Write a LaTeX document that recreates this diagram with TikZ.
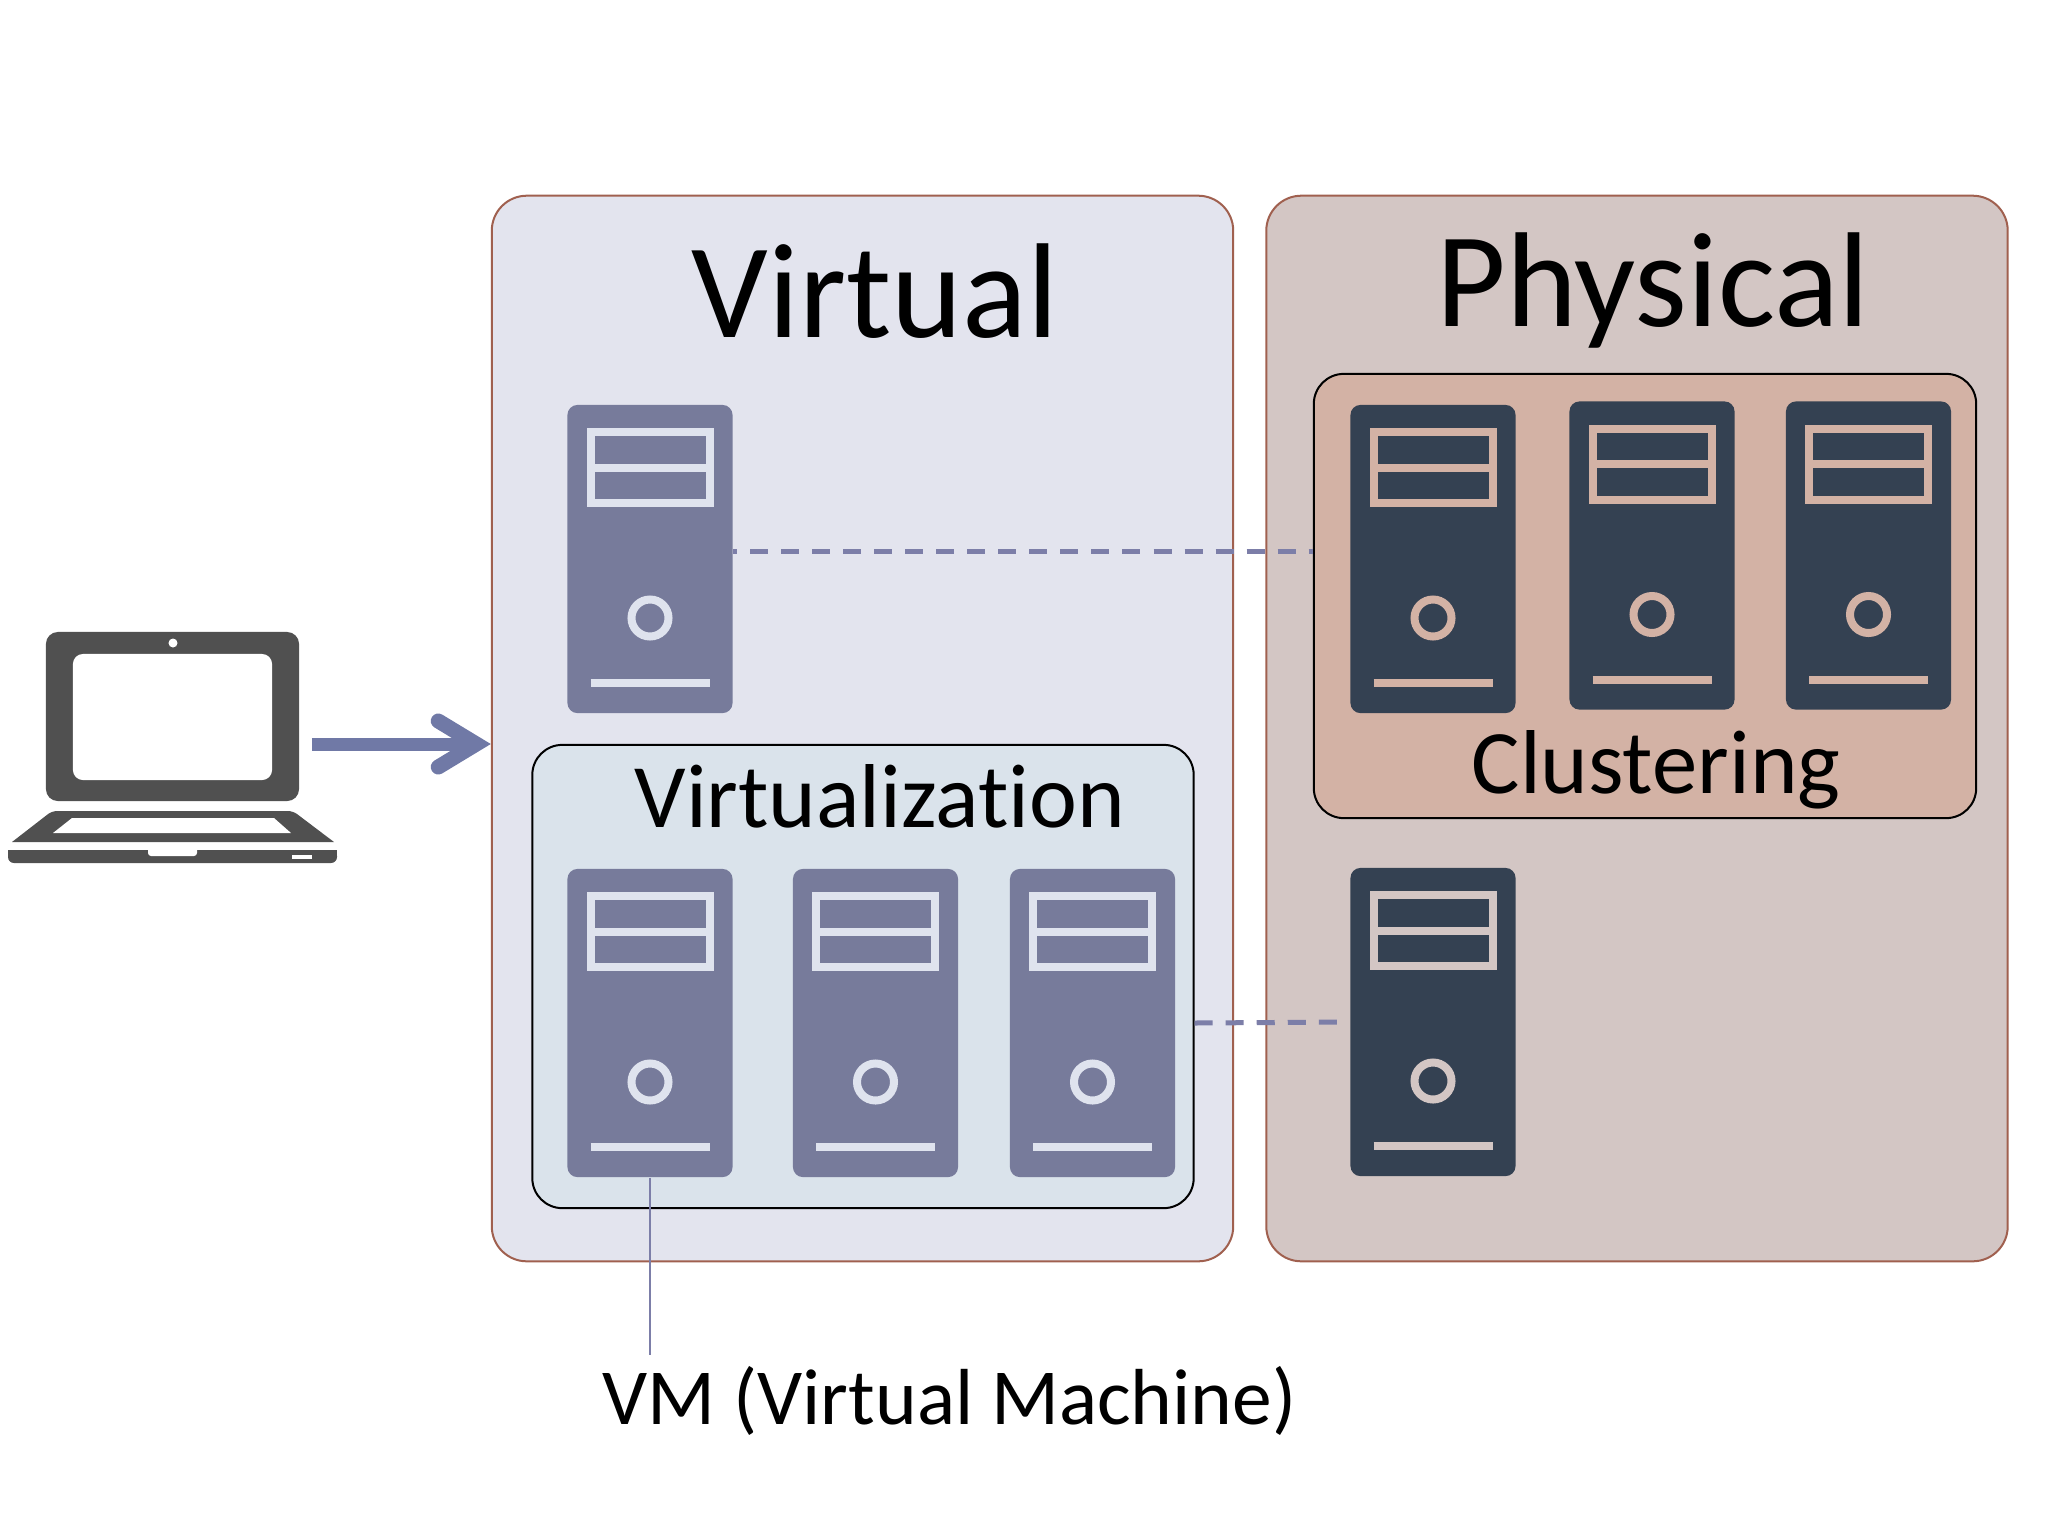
\documentclass[tikz,border=0pt]{standalone}
\usepackage{fontspec}
\setmainfont{Carlito}[Ligatures=NoCommon]
\usetikzlibrary{arrows.meta, positioning}

\definecolor{panelvirt}{HTML}{E3E4EE}
\definecolor{panelphys}{HTML}{D3C6C4}
\definecolor{panelline}{HTML}{A0604F}
\definecolor{virtfill}{HTML}{DAE3EB}
\definecolor{clusterfill}{HTML}{D3B2A5}
\definecolor{vmbody}{HTML}{777B9B}
\definecolor{vmtrim}{HTML}{DFE3EE}
\definecolor{hostbody}{HTML}{344152}
\definecolor{linkcolor}{HTML}{7C7EA8}
\definecolor{arrowcolor}{HTML}{7079A6}
\definecolor{laptopgray}{HTML}{505050}

\tikzset{
  panel/.style={draw=panelline, line width=0.02cm, rounded corners=0.35cm, minimum width=#1, minimum height=10.65cm, inner sep=0pt},
  group/.style={draw=black, line width=0.02cm, rounded corners=0.3cm, inner sep=0pt},
  serverbody/.style={rounded corners=0.1cm, minimum width=1.65cm, minimum height=3.08cm, inner sep=0pt},
  linkline/.style={draw=linkcolor, line width=0.05cm, dash pattern=on 0.18cm off 0.13cm},
  caption/.style={anchor=base, inner sep=0pt}
}

\newcommand{\server}[5]{
  \node [serverbody, fill=#4] (#1) at (#2,#3) {};
  \begin{scope}[shift={(#2,#3)}, draw=#5, line width=0.08cm]
    \draw (-59.5,-127) rectangle (59.5,-56);
    \draw (-59.5,-91.5) -- (59.5,-91.5);
    \draw (0,59) circle (0.185cm);
    \draw (-59.5,124) -- (59.5,124);
  \end{scope}
}

\begin{document}
\begin{tikzpicture}[x=0.01cm, y=-0.01cm]
  \useasboundingbox (0,0) rectangle (2048,1536);

  % panels
  \node [panel=7.41cm, fill=panelvirt] (virtual) at (862.5,728.5) {};
  \node [panel=7.41cm, fill=panelphys] (physical) at (1637,728.5) {};
  \node [group, fill=virtfill, minimum width=6.61cm, minimum height=4.63cm] (virtualization) at (863,976.5) {};
  \node [group, fill=clusterfill, minimum width=6.62cm, minimum height=4.44cm] (cluster) at (1645,596) {};

  % servers
  \server{vmtop}{650}{559}{vmbody}{vmtrim}
  \server{vma}{650}{1023}{vmbody}{vmtrim}
  \server{vmb}{875.5}{1023}{vmbody}{vmtrim}
  \server{vmc}{1092.5}{1023}{vmbody}{vmtrim}
  \server{hosta}{1433}{559}{hostbody}{clusterfill}
  \server{hostb}{1652}{555.5}{hostbody}{clusterfill}
  \server{hostc}{1868.5}{555.5}{hostbody}{clusterfill}
  \server{hostd}{1433}{1022}{hostbody}{panelphys}

  % titles
  \node [caption, font=\fontsize{38.4}{46}\selectfont] (virtualtitle) at (875,337) {Virtual};
  \node [caption, font=\fontsize{38.4}{46}\selectfont] (physicaltitle) at (1653,326) {Physical};
  \node [caption, font=\fontsize{25.8}{31}\selectfont] (virtualizationtitle) at (880,827) {Virtualization};
  \node [caption, font=\fontsize{25.8}{31}\selectfont] (clustertitle) at (1656,793) {Clustering};
  \node [caption, font=\fontsize{22.6}{27}\selectfont] (vmlabel) at (949.5,1424) {VM (Virtual Machine)};

  % laptop
  \node [fill=laptopgray, rounded corners=0.12cm, minimum width=2.53cm, minimum height=1.69cm, inner sep=0pt] (laptop) at (172.5,716.5) {};
  \node [fill=white, rounded corners=0.1cm, minimum width=1.99cm, minimum height=1.26cm, inner sep=0pt] (screen) at (172.5,717) {};
  \node [fill=white, circle, minimum size=0.09cm, inner sep=0pt] (camera) at (173,643) {};
  \fill [laptopgray] (12,842) [rounded corners=0.05cm] -- (52,811) -- (293,811) [sharp corners] -- (334,842) -- cycle;
  \fill [white] (53,833) -- (72,818) -- (274,818) -- (291,833) -- cycle;
  \fill [laptopgray, rounded corners=0.06cm] (8,850) -- (8,863) -- (337,863) -- (337,850) -- cycle;
  \fill [laptopgray] (8,850) rectangle (337,855);
  \fill [white, rounded corners=0.03cm] (148,846) -- (148,856) -- (197,856) -- (197,846) -- cycle;
  \fill [white] (292,855) rectangle (312,859);

  % connectors
  \coordinate (entry) at (virtual.west |- 0,744);
  \draw [draw=arrowcolor, line width=0.13cm, shorten <=0.12cm, -{Straight Barb[length=0.38cm, width=0.46cm, line width=0.15cm, line cap=round, line join=miter]}] (laptop.east |- entry) -- (entry);
  \draw [linkline, dash phase=0.14cm] ([yshift=0.08cm]vmtop.east) -- ([yshift=0.08cm]vmtop.east -| cluster.west);
  \draw [linkline, shorten >=0.12cm] (vmc.east -| virtualization.east) -- (hostd.west);
  \draw [draw=linkcolor, line width=0.02cm] (vma.south) -- (vma.south |- 0,1355);
\end{tikzpicture}
\end{document}
